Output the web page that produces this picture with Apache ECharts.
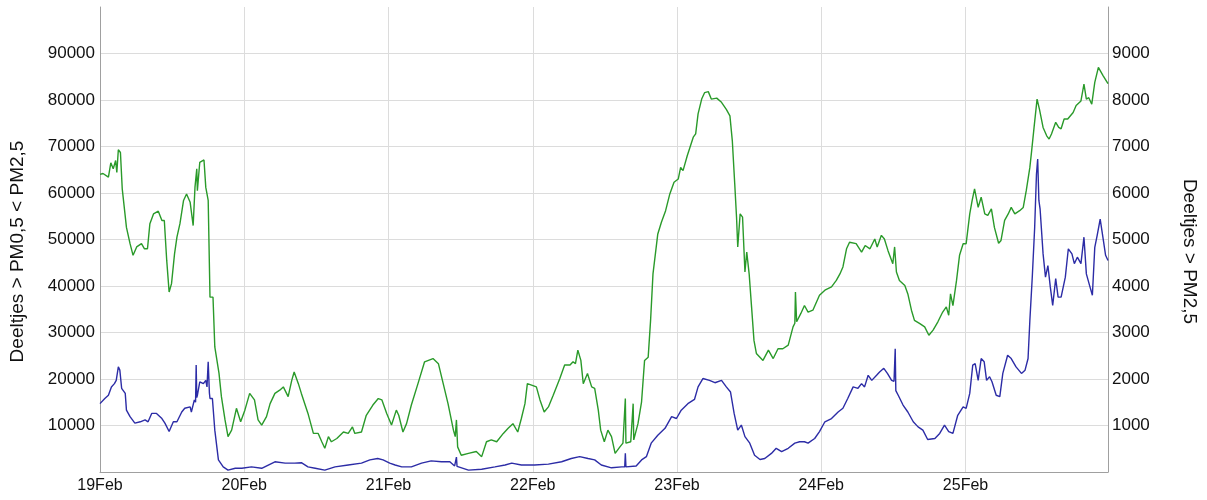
<!DOCTYPE html>
<html lang="nl">

<head>
    <meta charset="UTF-8">
    <title>Fijnstof</title>
    <script src="https://cdnjs.cloudflare.com/ajax/libs/echarts/6.0.0/echarts.min.js"></script>
    <style>
        body { margin: 0; background: #fff; }
        #main { width: 1207px; height: 500px; }
    </style>
</head>

<body>
    <div id="main"></div>

    <script type="text/javascript">
        // x = uren sinds 19 feb 00:00
        const dayLabels = ['19Feb', '20Feb', '21Feb', '22Feb', '23Feb', '24Feb', '25Feb'];

        // Deeltjes > PM0,5 < PM2,5 (linker as)
        const pm05 = [
            [0, 64000], [0.5, 64200], [1.4, 63400], [1.8, 66500], [2.2, 65200], [2.6, 67000], [2.8, 64400], [3.05, 69300],
            [3.4, 68700], [3.7, 60900], [4.0, 60500], [4.4, 52600], [5.0, 49100], [5.5, 46600], [6.1, 48400], [6.9, 49100],
            [7.4, 48000], [7.9, 48000], [8.3, 53400], [8.9, 55500], [9.7, 56100], [10.3, 54100], [10.7, 54100], [11.1, 45500],
            [11.5, 38700], [11.9, 40500], [12.4, 46900], [12.8, 50500], [13.3, 53400], [13.9, 58400], [14.4, 59800], [15.0, 58000],
            [15.2, 58400], [15.5, 53000], [15.8, 61200], [16.1, 65200], [16.2, 60500], [16.6, 66600], [17.3, 67100], [17.6, 61200],
            [18.0, 58400], [18.3, 37600], [18.8, 37600], [19.1, 26900], [19.8, 21200], [20.2, 16200], [20.8, 11200], [21.3, 7600],
            [21.9, 9000], [22.7, 13700], [23.4, 10800], [24.1, 13300], [24.9, 16900], [25.7, 15500], [26.3, 11200], [26.9, 10100],
            [27.7, 11900], [28.3, 14700], [29.1, 16900], [29.9, 17600], [30.5, 18300], [31.3, 16200], [31.9, 19700], [32.3, 21500],
            [33.0, 19000], [33.5, 16900], [34.6, 12600], [35.5, 8300], [36.3, 8300], [36.9, 6500], [37.4, 5100], [38.0, 7600],
            [38.5, 6500], [39.4, 7200], [40.5, 8600], [41.3, 8300], [42.0, 9700], [42.4, 8300], [43.5, 8600], [44.3, 12200],
            [45.4, 14400], [46.3, 15800], [46.9, 15500], [47.7, 12600], [48.5, 10100], [49.3, 13300], [49.7, 12200], [50.4, 8600],
            [51.0, 10400], [51.8, 14400], [52.9, 19000], [54.0, 23700], [55.4, 24400], [56.3, 23300], [57.1, 19000], [57.9, 14700],
            [58.8, 9000], [59.1, 7600], [59.3, 11200], [59.5, 5400], [60.1, 3600], [61.3, 4000], [62.6, 4400], [63.5, 3300],
            [64.3, 6500], [65.1, 6900], [66.0, 6500], [67.1, 8300], [67.9, 9400], [68.7, 10400], [69.5, 8600], [70.1, 11500],
            [70.7, 14700], [71.1, 19000], [71.8, 18700], [72.6, 18300], [73.2, 15500], [73.9, 12900], [74.6, 14000], [75.4, 16500],
            [76.5, 20100], [77.3, 23000], [78.2, 23000], [78.7, 23700], [79.1, 23300], [79.5, 26200], [80.0, 24000], [80.4, 19000],
            [81.1, 21200], [81.8, 18300], [82.3, 18000], [82.9, 13300], [83.3, 9000], [83.9, 6500], [84.5, 9000], [85.1, 7600],
            [85.7, 4000], [86.5, 5400], [87.0, 6200], [87.3, 6000], [87.4, 15800], [87.5, 6200], [88.3, 6500], [88.6, 6600],
            [88.7, 14700], [88.8, 6900], [89.5, 10400], [90.1, 15100], [90.6, 24000], [91.2, 24700], [91.6, 32600], [92.0, 42600],
            [92.8, 51200], [93.4, 53700], [94.1, 56200], [94.8, 59800], [95.5, 62300], [96.2, 63000], [96.6, 65500], [97.0, 64800],
            [97.7, 68000], [98.7, 72000], [99.1, 72700], [99.5, 77000], [100.1, 80200], [100.6, 81600], [101.2, 81800], [101.7, 80200],
            [102.6, 80400], [103.4, 79500], [104.2, 78000], [104.8, 76600], [105.2, 71200], [105.6, 62000], [105.9, 54800], [106.1, 48400],
            [106.5, 55500], [106.9, 54800], [107.3, 43000], [107.6, 47300], [108.0, 42600], [108.4, 35500], [108.8, 28300], [109.2, 25500],
            [110.3, 24000], [111.2, 26200], [112.0, 24400], [112.8, 26500], [113.6, 26500], [114.5, 27300], [115.3, 31200], [115.6, 32000],
            [115.7, 38700], [115.9, 32300], [116.6, 34100], [117.2, 35800], [117.8, 34400], [118.6, 34800], [119.7, 38000], [120.6, 39100],
            [121.7, 39800], [122.5, 41200], [123.1, 42600], [123.6, 44100], [124.2, 48000], [124.7, 49400], [125.8, 49100], [126.7, 47300],
            [127.3, 48700], [128.1, 48000], [128.9, 50100], [129.3, 48400], [130.0, 50900], [130.5, 50100], [131.1, 47600], [131.9, 44800],
            [132.2, 48400], [132.5, 43000], [133.0, 41200], [133.9, 40100], [134.4, 38300], [135.0, 34800], [135.5, 32600], [136.4, 31900],
            [137.2, 31200], [137.9, 29400], [138.6, 30500], [139.4, 32300], [140.2, 34400], [140.8, 35500], [141.2, 33700], [141.5, 38300],
            [141.9, 35800], [142.5, 41200], [143.0, 46600], [143.6, 49100], [144.1, 49100], [144.7, 55500], [145.1, 58400], [145.5, 60900],
            [146.1, 56900], [146.6, 59100], [147.2, 55500], [147.7, 55200], [148.3, 56600], [148.8, 52600], [149.5, 49200], [149.9, 49800],
            [150.5, 54100], [151.1, 55500], [151.6, 56900], [152.2, 55500], [153.0, 56200], [153.6, 56900], [154.1, 60500], [154.7, 65500],
            [155.0, 69100], [155.4, 74100], [155.9, 80200], [156.3, 78000], [156.9, 74100], [157.5, 72300], [157.9, 71600], [158.3, 72700],
            [159.0, 75200], [159.5, 74100], [159.9, 73800], [160.4, 75900], [161.0, 75900], [161.9, 77300], [162.4, 78800], [163.2, 79800],
            [163.7, 83400], [164.1, 80200], [164.5, 80500], [165.0, 79100], [165.5, 83800], [166.1, 87000], [166.9, 85200], [167.7, 83500]
        ];

        // Deeltjes > PM2,5 (rechter as)
        const pm25 = [
            [0, 1470], [0.8, 1580], [1.4, 1650], [1.9, 1830], [2.4, 1900], [2.7, 1970], [3.05, 2260], [3.3, 2190],
            [3.6, 1800], [4.2, 1690], [4.4, 1330], [5.0, 1190], [5.8, 1050], [6.7, 1080], [7.5, 1120], [8.0, 1080],
            [8.6, 1260], [9.4, 1260], [10.3, 1150], [10.8, 1050], [11.5, 870], [12.2, 1080], [12.8, 1080], [13.6, 1290],
            [14.1, 1370], [15.0, 1400], [15.2, 1290], [15.7, 1550], [15.9, 1500], [16.0, 2300], [16.1, 1600], [16.2, 1650],
            [16.6, 1940], [17.2, 1900], [17.6, 1970], [17.8, 1830], [18.0, 2370], [18.2, 1700], [18.3, 1580], [18.7, 1580],
            [19.1, 900], [19.7, 260], [20.5, 110], [21.3, 40], [22.5, 80], [23.6, 80], [25.2, 110], [26.9, 80],
            [28.0, 150], [29.1, 220], [30.8, 190], [32.4, 190], [33.5, 200], [34.6, 110], [35.8, 80], [37.4, 40],
            [39.1, 110], [41.3, 150], [43.5, 190], [44.9, 260], [46.2, 290], [47.1, 260], [48.2, 190], [49.1, 150],
            [50.2, 110], [51.8, 110], [53.5, 190], [55.1, 240], [56.8, 220], [58.2, 220], [59.0, 130], [59.2, 130],
            [59.3, 320], [59.4, 120], [59.6, 80], [61.3, 40], [63.5, 60], [65.7, 110], [67.4, 150], [68.5, 190],
            [70.1, 150], [72.3, 150], [74.6, 170], [76.8, 220], [78.4, 290], [79.8, 330], [81.2, 290], [82.3, 260],
            [83.4, 150], [85.1, 90], [86.8, 110], [87.3, 110], [87.4, 400], [87.5, 110], [89.2, 130], [90.1, 260],
            [90.9, 330], [91.7, 620], [92.8, 790], [94.0, 940], [95.1, 1190], [95.9, 1150], [96.7, 1330], [97.8, 1470],
            [98.9, 1560], [99.5, 1830], [100.3, 2010], [101.4, 1970], [102.3, 1920], [103.4, 1970], [104.2, 1830], [104.9, 1720],
            [105.5, 1260], [106.1, 900], [106.7, 1010], [107.3, 760], [108.1, 620], [108.9, 360], [109.8, 270], [110.6, 290],
            [111.7, 400], [112.5, 510], [113.4, 440], [114.5, 510], [115.6, 620], [116.4, 650], [117.2, 650], [117.8, 620],
            [118.9, 720], [119.7, 870], [120.6, 1080], [121.7, 1150], [122.8, 1290], [123.6, 1370], [124.4, 1580], [125.3, 1830],
            [126.1, 1800], [126.7, 1900], [127.2, 1830], [127.8, 2080], [128.4, 1970], [129.2, 2080], [129.7, 2150], [130.4, 2230],
            [131.0, 2120], [131.7, 1970], [132.1, 1950], [132.3, 2650], [132.4, 1750], [132.8, 1650], [133.6, 1440], [134.4, 1290],
            [135.3, 1080], [136.1, 970], [136.9, 900], [137.7, 700], [138.9, 720], [139.7, 830], [140.5, 1010], [141.2, 870],
            [141.9, 830], [142.7, 1220], [143.6, 1400], [144.1, 1370], [144.7, 1690], [145.2, 2300], [145.6, 2330], [146.1, 1970],
            [146.6, 2440], [147.1, 2370], [147.5, 1970], [148.0, 2050], [148.4, 1940], [149.1, 1650], [149.7, 1620], [150.2, 2120],
            [151.0, 2510], [151.6, 2440], [152.4, 2260], [153.3, 2120], [153.9, 2190], [154.4, 2440], [154.7, 3260], [155.1, 4190],
            [155.5, 5260], [155.8, 6410], [156.0, 6730], [156.2, 5840], [156.4, 5660], [156.9, 4690], [157.3, 4190], [157.7, 4440],
            [158.1, 3980], [158.5, 3580], [159.0, 4160], [159.4, 3760], [159.9, 3760], [160.6, 4190], [161.1, 4800], [161.7, 4690],
            [162.1, 4480], [162.6, 4620], [163.2, 4480], [163.7, 5050], [164.1, 4260], [164.7, 3980], [165.1, 3800], [165.5, 4830],
            [165.9, 5090], [166.4, 5440], [166.9, 5010], [167.3, 4660], [167.7, 4550]
        ];

        const fontFam = '"Liberation Sans", Arial, Helvetica, sans-serif';
        const myChart = echarts.init(document.getElementById('main'));

        const axisLineStyle = { lineStyle: { color: '#a0a0a0', width: 1 } };
        // getallen zonder duizendtal-scheiding
        const plainNum = (v) => String(v);

        var option = {
            animation: false,
            textStyle: { fontFamily: fontFam },
            grid: { left: 100, right: 99, top: 7, bottom: 28, containLabel: false },
            xAxis: {
                type: 'value',
                min: 0,
                max: 167.7,
                interval: 24,
                axisLine: axisLineStyle,
                axisTick: { show: false },
                axisLabel: {
                    color: '#111',
                    fontSize: 16,
                    fontFamily: fontFam,
                    margin: 6,
                    formatter: (v) => (v % 24 === 0 && dayLabels[v / 24]) ? dayLabels[v / 24] : ''
                },
                splitLine: { show: true, showMinLine: false, showMaxLine: false, lineStyle: { color: '#dcdcdc' } }
            },
            yAxis: [
                {
                    type: 'value',
                    min: 0,
                    max: 100000,
                    interval: 10000,
                    name: 'Deeltjes > PM0,5 < PM2,5',
                    nameLocation: 'middle',
                    nameRotate: 90,
                    nameGap: 73,
                    // iets lager dan het midden, zoals in het origineel
                    nameTextStyle: { color: '#111', fontSize: 19, fontFamily: fontFam, padding: [0, 24, 0, 0] },
                    axisLine: { show: true, lineStyle: { color: '#a0a0a0', width: 1 } },
                    axisTick: { show: false },
                    axisLabel: {
                        color: '#111', fontSize: 17, fontFamily: fontFam, margin: 5,
                        showMinLabel: false, showMaxLabel: false, formatter: plainNum
                    },
                    splitLine: { show: true, showMinLine: false, showMaxLine: false, lineStyle: { color: '#dcdcdc' } }
                },
                {
                    type: 'value',
                    min: 0,
                    max: 10000,
                    interval: 1000,
                    position: 'right',
                    name: 'Deeltjes > PM2,5',
                    nameLocation: 'middle',
                    nameRotate: -90,
                    nameGap: 72,
                    nameTextStyle: { color: '#111', fontSize: 19, fontFamily: fontFam, padding: [0, 0, 0, 24] },
                    axisLine: { show: true, lineStyle: { color: '#a0a0a0', width: 1 } },
                    axisTick: { show: false },
                    axisLabel: {
                        color: '#111', fontSize: 17, fontFamily: fontFam, margin: 4,
                        showMinLabel: false, showMaxLabel: false, formatter: plainNum
                    },
                    splitLine: { show: false }
                }
            ],
            series: [
                {
                    name: 'Deeltjes > PM0,5 < PM2,5',
                    type: 'line',
                    yAxisIndex: 0,
                    data: pm05,
                    showSymbol: false,
                    lineStyle: { color: '#2a9a2a', width: 1.4 },
                    itemStyle: { color: '#2a9a2a' }
                },
                {
                    name: 'Deeltjes > PM2,5',
                    type: 'line',
                    yAxisIndex: 1,
                    data: pm25,
                    showSymbol: false,
                    lineStyle: { color: '#2c2ca6', width: 1.4 },
                    itemStyle: { color: '#2c2ca6' }
                }
            ]
        };

        myChart.setOption(option);
    </script>
</body>

</html>
